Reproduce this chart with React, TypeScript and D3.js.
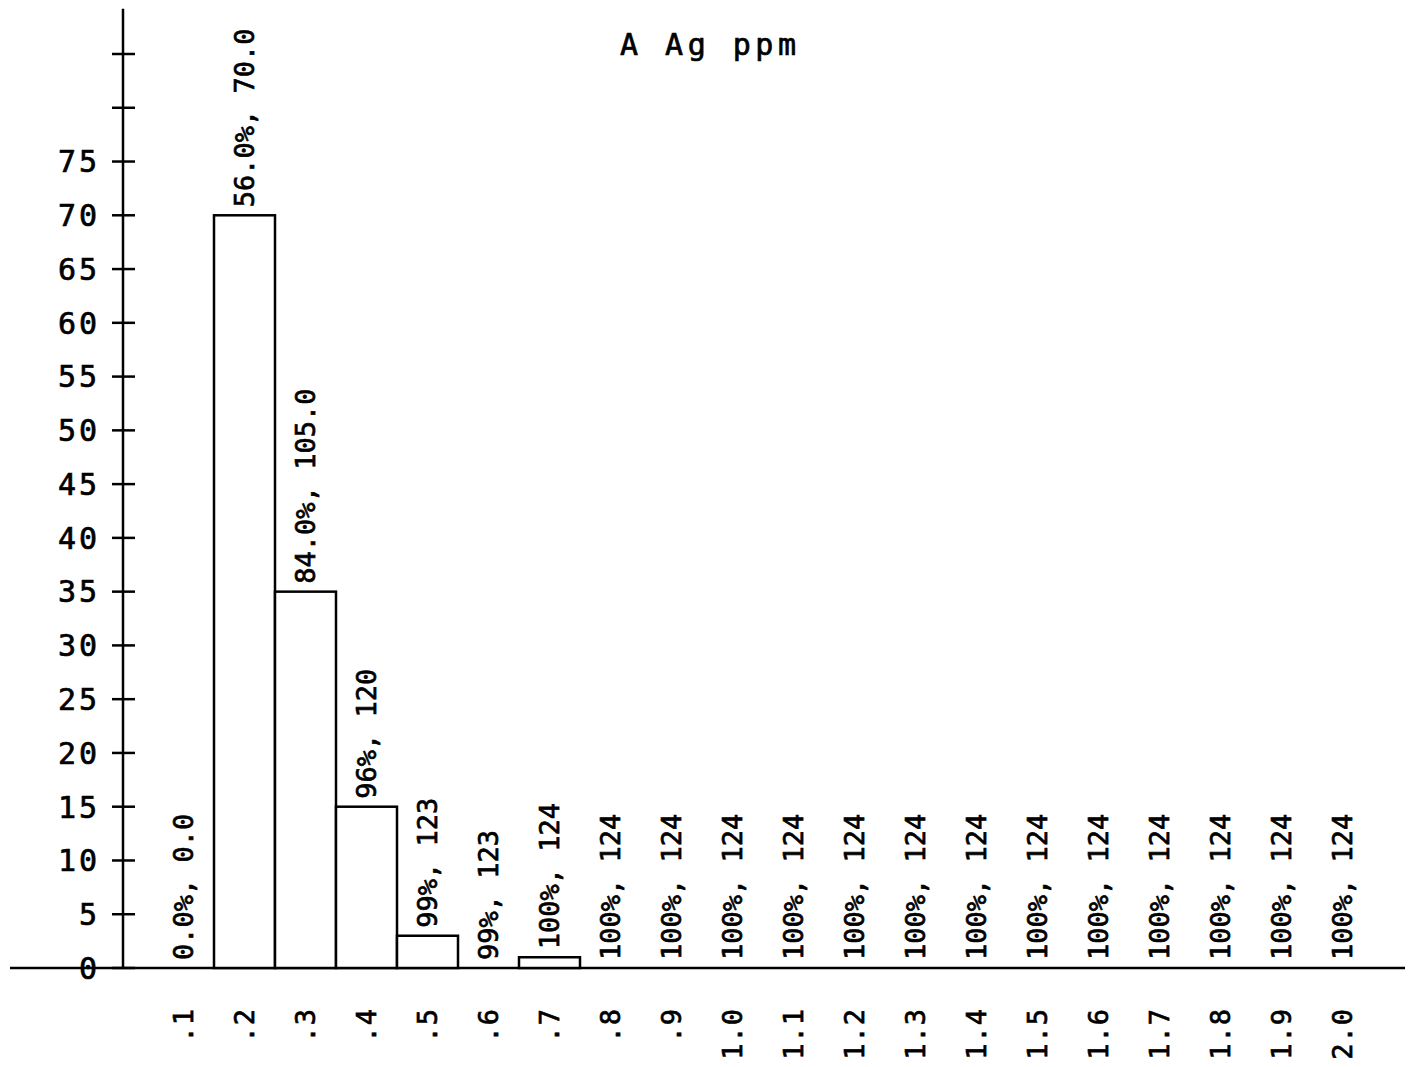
import { useEffect, useRef } from "react";
import * as d3 from "d3";

// histogram bins (ppm) and counts per bin
const bins = [".1", ".2", ".3", ".4", ".5", ".6", ".7", ".8", ".9", "1.0",
  "1.1", "1.2", "1.3", "1.4", "1.5", "1.6", "1.7", "1.8", "1.9", "2.0"];
const counts = [0, 70, 35, 15, 3, 0, 1, 0, 0, 0, 0, 0, 0, 0, 0, 0, 0, 0, 0, 0];
// cumulative percent and cumulative count, as printed above each bar
const cumPct = ["0.0%", "56.0%", "84.0%", "96%", "99%", "99%", "100%", "100%", "100%", "100%",
  "100%", "100%", "100%", "100%", "100%", "100%", "100%", "100%", "100%", "100%"];
const cumCount = ["0.0", "70.0", "105.0", "120", "123", "123", "124", "124", "124", "124",
  "124", "124", "124", "124", "124", "124", "124", "124", "124", "124"];
const yTicks = d3.range(0, 90, 5);
const yLabelMax = 75;
const title = "A Ag ppm";

const W = 1416;
const H = 1067;
const FONT = "'DejaVu Sans Mono', 'Liberation Mono', monospace";

export default function App() {
  const svgRef = useRef<SVGSVGElement>(null);

  useEffect(() => {
    if (!svgRef.current) return;
    const svg = d3.select(svgRef.current);
    svg.selectAll("*").remove();

    const x = d3.scaleBand<string>().domain(bins).range([153, 153 + 61 * bins.length]).padding(0);
    const y = d3.scaleLinear().domain([0, 85]).range([968, 54]);
    const axisX = 123;

    // plotter-like text: thin outline to thicken glyph strokes
    const pen = (s: d3.Selection<any, any, any, any>) =>
      s.attr("font-family", FONT).attr("fill", "#000").attr("stroke", "#000").attr("stroke-width", 0.7);

    // x axis line
    svg.append("line")
      .attr("x1", 10).attr("x2", 1405)
      .attr("y1", y(0)).attr("y2", y(0))
      .attr("stroke", "#000").attr("stroke-width", 2.5);

    // y axis line
    svg.append("line")
      .attr("x1", axisX).attr("x2", axisX)
      .attr("y1", y(0)).attr("y2", y(89.2))
      .attr("stroke", "#000").attr("stroke-width", 2.5);

    // y ticks
    const yt = svg.append("g");
    yt.selectAll("line")
      .data(yTicks)
      .join("line")
      .attr("x1", axisX - 11).attr("x2", axisX + 12)
      .attr("y1", (d) => y(d)).attr("y2", (d) => y(d))
      .attr("stroke", "#000").attr("stroke-width", 2.5);
    yt.selectAll("text")
      .data(yTicks.filter((d) => d <= yLabelMax))
      .join("text")
      .attr("x", 100)
      .attr("y", (d) => y(d))
      .attr("dy", "0.36em")
      .attr("text-anchor", "end")
      .attr("font-size", 30)
      .attr("letter-spacing", 3)
      .call(pen)
      .text((d) => String(d));

    // bars
    svg.append("g")
      .selectAll("rect")
      .data(bins.map((b, i) => ({ b, v: counts[i] })).filter((d) => d.v > 0))
      .join("rect")
      .attr("x", (d) => x(d.b)!)
      .attr("y", (d) => y(d.v))
      .attr("width", x.bandwidth())
      .attr("height", (d) => y(0) - y(d.v))
      .attr("fill", "#fff")
      .attr("stroke", "#000")
      .attr("stroke-width", 2.5);

    // annotations above each bar
    svg.append("g")
      .selectAll("text")
      .data(bins.map((b, i) => ({ b, v: counts[i], t: `${cumPct[i]}, ${cumCount[i]}` })))
      .join("text")
      .attr("transform", (d) => `translate(${x(d.b)! + x.bandwidth() / 2},${y(d.v) - 8}) rotate(-90)`)
      .attr("dy", "0.36em")
      .attr("font-size", 27)
      .call(pen)
      .text((d) => d.t);

    // x tick labels
    svg.append("g")
      .selectAll("text")
      .data(bins)
      .join("text")
      .attr("transform", (d) => `translate(${x(d)! + x.bandwidth() / 2},1008) rotate(-90)`)
      .attr("dy", "0.36em")
      .attr("text-anchor", "end")
      .attr("font-size", 27)
      .attr("letter-spacing", 1)
      .call(pen)
      .text((d) => d);

    // title
    svg.append("text")
      .attr("x", 620)
      .attr("y", 55)
      .attr("font-size", 30)
      .attr("letter-spacing", 4.5)
      .call(pen)
      .text(title);
  }, []);

  return (
    <svg
      ref={svgRef}
      width={W}
      height={H}
      style={{ position: "absolute", left: 0, top: 0, display: "block", background: "#fff" }}
    />
  );
}
